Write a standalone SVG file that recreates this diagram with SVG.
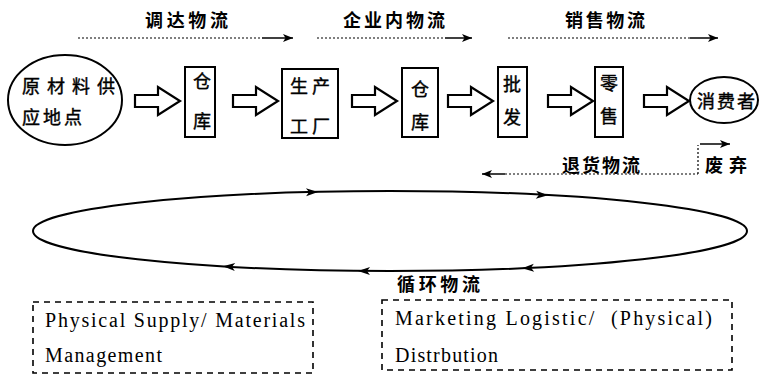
<svg xmlns="http://www.w3.org/2000/svg" width="762" height="376" viewBox="0 0 762 376">
<style>
.cn{font-family:"Noto Sans CJK SC","Noto Sans",sans-serif;font-size:18px;fill:#000;dominant-baseline:central;stroke:#000;stroke-width:0.4}
.cb{font-weight:bold;stroke-width:0}
.en{font-family:"Liberation Serif",serif;font-size:20px;fill:#000}
.node{fill:#fff;stroke:#000;stroke-width:2}
.blk{fill:#fff;stroke:#000;stroke-width:2.2;stroke-linejoin:miter}
.dot{fill:none;stroke:#000;stroke-width:1.2;stroke-dasharray:2 2}
.sol{fill:none;stroke:#000;stroke-width:1.5}
.dash{fill:none;stroke:#000;stroke-width:1.6;stroke-dasharray:6 5}
.loop{fill:none;stroke:#000;stroke-width:2}
</style>
<defs>
<marker id="ah" viewBox="0 0 10 8" refX="10" refY="4" markerWidth="10" markerHeight="8" markerUnits="userSpaceOnUse" orient="auto">
<path d="M0,0 L10,4 L0,8 L2.5,4 Z" fill="#000"/>
</marker>
<path id="blk" d="M0,-6 H23 V-14 L45,0 L23,14 V6 H0 Z"/>
<path id="lh" d="M-7,-4 L5,0 L-7,4 L-4,0 Z" fill="#000"/>
</defs>

<g id="flow-labels">
<text class="cn cb" x="145" y="19" textLength="83" lengthAdjust="spacing">调达物流</text>
<text class="cn cb" x="343" y="19" textLength="102" lengthAdjust="spacing">企业内物流</text>
<text class="cn cb" x="565" y="19" textLength="80" lengthAdjust="spacing">销售物流</text>
</g>

<g id="connectors">
<line class="dot" x1="78" y1="38" x2="262" y2="38"/>
<line class="sol" x1="262" y1="38" x2="293" y2="38" marker-end="url(#ah)"/>
<line class="dot" x1="317" y1="38" x2="445" y2="38"/>
<line class="sol" x1="445" y1="38" x2="472" y2="38" marker-end="url(#ah)"/>
<line class="dot" x1="508" y1="38" x2="690" y2="38"/>
<line class="sol" x1="690" y1="38" x2="718" y2="38" marker-end="url(#ah)"/>

<use href="#blk" class="blk" transform="translate(135,101)"/>
<use href="#blk" class="blk" transform="translate(233,101)"/>
<use href="#blk" class="blk" transform="translate(352,101)"/>
<use href="#blk" class="blk" transform="translate(448,101)"/>
<use href="#blk" class="blk" transform="translate(548,101)"/>
<use href="#blk" class="blk" transform="translate(644,101)"/>

<line class="dot" x1="505" y1="174" x2="698" y2="174"/>
<line class="sol" x1="505" y1="174" x2="482" y2="174" marker-end="url(#ah)"/>
<line class="dot" x1="698" y1="174" x2="698" y2="145"/>
<line class="sol" x1="700" y1="144" x2="730" y2="144" marker-end="url(#ah)"/>

<ellipse class="loop" cx="390" cy="231" rx="357" ry="40"/>
<use href="#lh" transform="translate(313,192) rotate(-1.4)"/>
<use href="#lh" transform="translate(543,195) rotate(3)"/>
<use href="#lh" transform="translate(228,266.6) rotate(183.3)"/>
<use href="#lh" transform="translate(363,271) rotate(180.5)"/>
<use href="#lh" transform="translate(527,268) rotate(177.3)"/>
</g>

<g id="n-supply">
<ellipse class="node" cx="65" cy="100" rx="57" ry="45"/>
<text class="cn" x="22" y="85" textLength="93" lengthAdjust="spacing">原材料供</text>
<text class="cn" x="22" y="116" textLength="60" lengthAdjust="spacing">应地点</text>
</g>
<g id="n-warehouse1">
<rect class="node" x="185" y="67" width="30" height="70"/>
<text class="cn" x="202" y="80" text-anchor="middle">仓</text>
<text class="cn" x="202" y="120" text-anchor="middle">库</text>
</g>
<g id="n-factory">
<rect class="node" x="282" y="69" width="56" height="69"/>
<text class="cn" x="290" y="85" textLength="40" lengthAdjust="spacing">生产</text>
<text class="cn" x="290" y="125" textLength="40" lengthAdjust="spacing">工厂</text>
</g>
<g id="n-warehouse2">
<rect class="node" x="402" y="68" width="36" height="69"/>
<text class="cn" x="420" y="88" text-anchor="middle">仓</text>
<text class="cn" x="420" y="121" text-anchor="middle">库</text>
</g>
<g id="n-wholesale">
<rect class="node" x="498" y="67" width="29" height="70"/>
<text class="cn" x="512" y="83" text-anchor="middle">批</text>
<text class="cn" x="512" y="116" text-anchor="middle">发</text>
</g>
<g id="n-retail">
<rect class="node" x="595" y="67" width="28" height="70"/>
<text class="cn" x="609" y="82" text-anchor="middle">零</text>
<text class="cn" x="609" y="115" text-anchor="middle">售</text>
</g>
<g id="n-consumer">
<ellipse class="node" cx="724" cy="100" rx="34" ry="23"/>
<text class="cn" x="697" y="100" textLength="58" lengthAdjust="spacing">消费者</text>
</g>

<g id="other-labels">
<text class="cn cb" x="562" y="164" textLength="78" lengthAdjust="spacing">退货物流</text>
<text class="cn cb" x="705" y="164" textLength="42" lengthAdjust="spacing">废弃</text>
<text class="cn cb" x="397" y="283" textLength="83" lengthAdjust="spacing">循环物流</text>
</g>

<g id="n-supply-box">
<rect class="dash" x="33" y="302" width="280" height="71"/>
<text class="en" x="45" y="327" textLength="260" lengthAdjust="spacing">Physical Supply/ Materials</text>
<text class="en" x="45" y="362" textLength="117" lengthAdjust="spacing">Management</text>
</g>
<g id="n-marketing-box">
<rect class="dash" x="382" y="300" width="350" height="70"/>
<text class="en" x="395" y="325" textLength="317" lengthAdjust="spacing" xml:space="preserve">Marketing Logistic/  (Physical)</text>
<text class="en" x="395" y="362" textLength="103" lengthAdjust="spacing">Distrbution</text>
</g>
</svg>
